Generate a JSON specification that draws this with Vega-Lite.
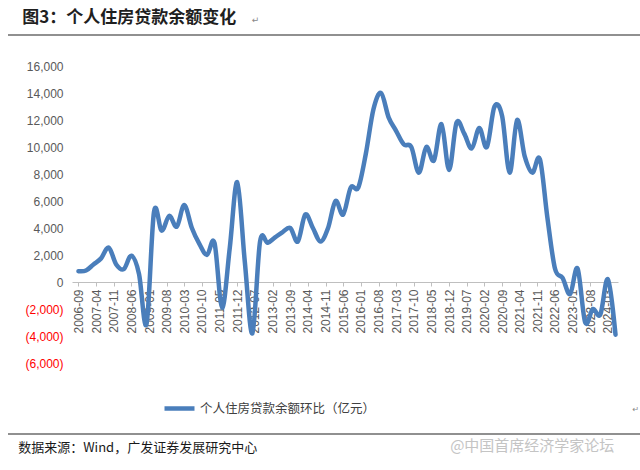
{
  "$schema": "https://vega.github.io/schema/vega-lite/v6.json",
  "width": 546,
  "height": 297,
  "autosize": "none",
  "padding": {"left": 72, "top": 66, "right": 22, "bottom": 107},
  "background": "white",
  "config": {"view": {"stroke": null}, "font": "Liberation Sans", "axis": {"labelOverlap": false, "labelSeparation": 0}},
  "data": {"values": [
    {"date": "2006-09-01", "value": 800},
    {"date": "2006-12-01", "value": 850},
    {"date": "2007-03-01", "value": 1300},
    {"date": "2007-06-01", "value": 1750},
    {"date": "2007-09-01", "value": 2550},
    {"date": "2007-12-01", "value": 1300},
    {"date": "2008-03-01", "value": 950},
    {"date": "2008-06-01", "value": 1950},
    {"date": "2008-09-01", "value": 600},
    {"date": "2008-12-01", "value": -3100},
    {"date": "2009-03-01", "value": 5200},
    {"date": "2009-06-01", "value": 3800},
    {"date": "2009-09-01", "value": 4900},
    {"date": "2009-12-01", "value": 4100},
    {"date": "2010-03-01", "value": 5700},
    {"date": "2010-06-01", "value": 4000},
    {"date": "2010-09-01", "value": 2800},
    {"date": "2010-12-01", "value": 2000},
    {"date": "2011-03-01", "value": 2900},
    {"date": "2011-06-01", "value": -1900},
    {"date": "2011-09-01", "value": 2500},
    {"date": "2011-12-01", "value": 7400},
    {"date": "2012-03-01", "value": 1500},
    {"date": "2012-06-01", "value": -3800},
    {"date": "2012-09-01", "value": 3000},
    {"date": "2012-12-01", "value": 2900},
    {"date": "2013-03-01", "value": 3300},
    {"date": "2013-06-01", "value": 3700},
    {"date": "2013-09-01", "value": 4000},
    {"date": "2013-12-01", "value": 3000},
    {"date": "2014-03-01", "value": 5000},
    {"date": "2014-06-01", "value": 4000},
    {"date": "2014-09-01", "value": 3000},
    {"date": "2014-12-01", "value": 4000},
    {"date": "2015-03-01", "value": 6000},
    {"date": "2015-06-01", "value": 5000},
    {"date": "2015-09-01", "value": 7000},
    {"date": "2015-12-01", "value": 7000},
    {"date": "2016-03-01", "value": 9500},
    {"date": "2016-06-01", "value": 12800},
    {"date": "2016-09-01", "value": 14000},
    {"date": "2016-12-01", "value": 12200},
    {"date": "2017-03-01", "value": 11200},
    {"date": "2017-06-01", "value": 10200},
    {"date": "2017-09-01", "value": 10000},
    {"date": "2017-12-01", "value": 8100},
    {"date": "2018-03-01", "value": 10000},
    {"date": "2018-06-01", "value": 9000},
    {"date": "2018-09-01", "value": 11700},
    {"date": "2018-12-01", "value": 8300},
    {"date": "2019-03-01", "value": 11800},
    {"date": "2019-06-01", "value": 11000},
    {"date": "2019-09-01", "value": 9900},
    {"date": "2019-12-01", "value": 11400},
    {"date": "2020-03-01", "value": 10000},
    {"date": "2020-06-01", "value": 13000},
    {"date": "2020-09-01", "value": 12300},
    {"date": "2020-12-01", "value": 8100},
    {"date": "2021-03-01", "value": 12000},
    {"date": "2021-06-01", "value": 9300},
    {"date": "2021-09-01", "value": 8100},
    {"date": "2021-12-01", "value": 9100},
    {"date": "2022-03-01", "value": 4800},
    {"date": "2022-06-01", "value": 1000},
    {"date": "2022-09-01", "value": 300},
    {"date": "2022-12-01", "value": -900},
    {"date": "2023-03-01", "value": 1000},
    {"date": "2023-06-01", "value": -3000},
    {"date": "2023-09-01", "value": -2000},
    {"date": "2023-12-01", "value": -2400},
    {"date": "2024-03-01", "value": 200},
    {"date": "2024-06-01", "value": -3900}
  ]},
  "layer": [
    {
      "mark": {"type": "line", "interpolate": "cardinal", "strokeWidth": 4.5, "strokeCap": "round", "strokeJoin": "round", "clip": false},
      "encoding": {
        "x": {
          "field": "date", "type": "temporal",
          "scale": {"type": "utc", "domain": [{"year": 2006, "month": 6, "date": 15, "utc": true}, {"year": 2024, "month": 7, "date": 1, "utc": true}]},
          "axis": {
            "title": null, "offset": -81, "grid": false, "tickCount": 200,
            "values": [
              {"year": 2006, "month": 9, "date": 1, "utc": true},
              {"year": 2007, "month": 4, "date": 1, "utc": true},
              {"year": 2007, "month": 11, "date": 1, "utc": true},
              {"year": 2008, "month": 6, "date": 1, "utc": true},
              {"year": 2009, "month": 1, "date": 1, "utc": true},
              {"year": 2009, "month": 8, "date": 1, "utc": true},
              {"year": 2010, "month": 3, "date": 1, "utc": true},
              {"year": 2010, "month": 10, "date": 1, "utc": true},
              {"year": 2011, "month": 5, "date": 1, "utc": true},
              {"year": 2011, "month": 12, "date": 1, "utc": true},
              {"year": 2012, "month": 7, "date": 1, "utc": true},
              {"year": 2013, "month": 2, "date": 1, "utc": true},
              {"year": 2013, "month": 9, "date": 1, "utc": true},
              {"year": 2014, "month": 4, "date": 1, "utc": true},
              {"year": 2014, "month": 11, "date": 1, "utc": true},
              {"year": 2015, "month": 6, "date": 1, "utc": true},
              {"year": 2016, "month": 1, "date": 1, "utc": true},
              {"year": 2016, "month": 8, "date": 1, "utc": true},
              {"year": 2017, "month": 3, "date": 1, "utc": true},
              {"year": 2017, "month": 10, "date": 1, "utc": true},
              {"year": 2018, "month": 5, "date": 1, "utc": true},
              {"year": 2018, "month": 12, "date": 1, "utc": true},
              {"year": 2019, "month": 7, "date": 1, "utc": true},
              {"year": 2020, "month": 2, "date": 1, "utc": true},
              {"year": 2020, "month": 9, "date": 1, "utc": true},
              {"year": 2021, "month": 4, "date": 1, "utc": true},
              {"year": 2021, "month": 11, "date": 1, "utc": true},
              {"year": 2022, "month": 6, "date": 1, "utc": true},
              {"year": 2023, "month": 1, "date": 1, "utc": true},
              {"year": 2023, "month": 8, "date": 1, "utc": true},
              {"year": 2024, "month": 3, "date": 1, "utc": true}
            ],
            "labelExpr": "utcFormat(datum.value, '%Y-%m')",
            "labelAngle": -90, "labelAlign": "right", "labelBaseline": "middle",
            "labelPadding": 3, "labelFontSize": 12, "labelColor": "#595959", "labelFont": "Liberation Sans",
            "labelOverlap": false, "labelFlush": false, "labelSeparation": 0,
            "domainColor": "#bfbfbf", "tickColor": "#bfbfbf", "tickSize": 4
          }
        },
        "y": {
          "field": "value", "type": "quantitative",
          "scale": {"domain": [-6000, 16000], "nice": false, "zero": false},
          "axis": {
            "title": null, "domain": false, "ticks": false, "grid": false, "tickCount": 100,
            "values": [-6000, -4000, -2000, 0, 2000, 4000, 6000, 8000, 10000, 12000, 14000, 16000],
            "labelExpr": "datum.value < 0 ? '(' + format(-datum.value, ',') + ')' : format(datum.value, ',')",
            "labelColor": {"condition": {"test": "datum.value < 0", "value": "#ff0000"}, "value": "#595959"},
            "labelFontSize": 12, "labelPadding": 9, "labelFont": "Liberation Sans",
            "labelOverlap": false, "labelFlush": false
          }
        },
        "color": {
          "datum": "个人住房贷款余额环比（亿元）",
          "scale": {"range": ["#4a7ebb"]},
          "legend": {
            "orient": "none", "legendX": 90, "legendY": 325, "title": null,
            "symbolType": "stroke", "symbolStrokeWidth": 4.5, "symbolSize": 900,
            "labelFont": "Noto Sans CJK SC", "labelFontSize": 12.5, "labelColor": "#404040", "labelOffset": 3, "labelLimit": 400
          }
        }
      }
    },
    {
      "data": {"values": [{}]},
      "mark": {"type": "rule", "color": "#222222", "strokeWidth": 1.2, "clip": false},
      "encoding": {
        "x": {"datum": {"year": 2004, "month": 5, "date": 3, "utc": true}, "type": "temporal"},
        "x2": {"datum": {"year": 2025, "month": 4, "date": 15, "utc": true}},
        "y": {"datum": 18296, "type": "quantitative"}
      }
    },
    {
      "data": {"values": [{}]},
      "mark": {"type": "rule", "color": "#222222", "strokeWidth": 1.2, "clip": false},
      "encoding": {
        "x": {"datum": {"year": 2004, "month": 5, "date": 3, "utc": true}, "type": "temporal"},
        "x2": {"datum": {"year": 2025, "month": 4, "date": 15, "utc": true}},
        "y": {"datum": -11259, "type": "quantitative"}
      }
    },
    {
      "data": {"values": [{"t": "图3：个人住房贷款余额变化"}]},
      "mark": {"type": "text", "align": "left", "baseline": "middle", "font": "Noto Sans CJK SC", "fontWeight": "bold", "fontSize": 17, "color": "#1f1f1f", "clip": false},
      "encoding": {
        "x": {"datum": {"year": 2004, "month": 10, "date": 21, "utc": true}, "type": "temporal"},
        "y": {"datum": 19556, "type": "quantitative"},
        "text": {"field": "t"}
      }
    },
    {
      "data": {"values": [{"t": "数据来源：Wind，广发证券发展研究中心"}]},
      "mark": {"type": "text", "align": "left", "baseline": "middle", "font": "Noto Sans CJK SC", "fontSize": 13, "color": "#1a1a1a", "clip": false},
      "encoding": {
        "x": {"datum": {"year": 2004, "month": 9, "date": 3, "utc": true}, "type": "temporal"},
        "y": {"datum": -12296, "type": "quantitative"},
        "text": {"field": "t"}
      }
    },
    {
      "data": {"values": [{"t": "@中国首席经济学家论坛"}]},
      "mark": {"type": "text", "align": "right", "baseline": "middle", "font": "Noto Sans CJK SC", "fontSize": 15, "color": "#c4c4c4", "clip": false},
      "encoding": {
        "x": {"datum": {"year": 2024, "month": 5, "date": 18, "utc": true}, "type": "temporal"},
        "y": {"datum": -12148, "type": "quantitative"},
        "text": {"field": "t"}
      }
    },
    {
      "data": {"values": [{"t": "↵"}]},
      "mark": {"type": "text", "align": "left", "baseline": "middle", "font": "DejaVu Sans", "fontSize": 9, "color": "#888888", "clip": false},
      "encoding": {
        "x": {"datum": {"year": 2012, "month": 5, "date": 24, "utc": true}, "type": "temporal"},
        "y": {"datum": 19407, "type": "quantitative"},
        "text": {"field": "t"}
      }
    },
    {
      "data": {"values": [{"t": "↵"}]},
      "mark": {"type": "text", "align": "left", "baseline": "middle", "font": "DejaVu Sans", "fontSize": 8, "color": "#888888", "clip": false},
      "encoding": {
        "x": {"datum": {"year": 2024, "month": 12, "date": 24, "utc": true}, "type": "temporal"},
        "y": {"datum": -9481, "type": "quantitative"},
        "text": {"field": "t"}
      }
    }
  ]
}
